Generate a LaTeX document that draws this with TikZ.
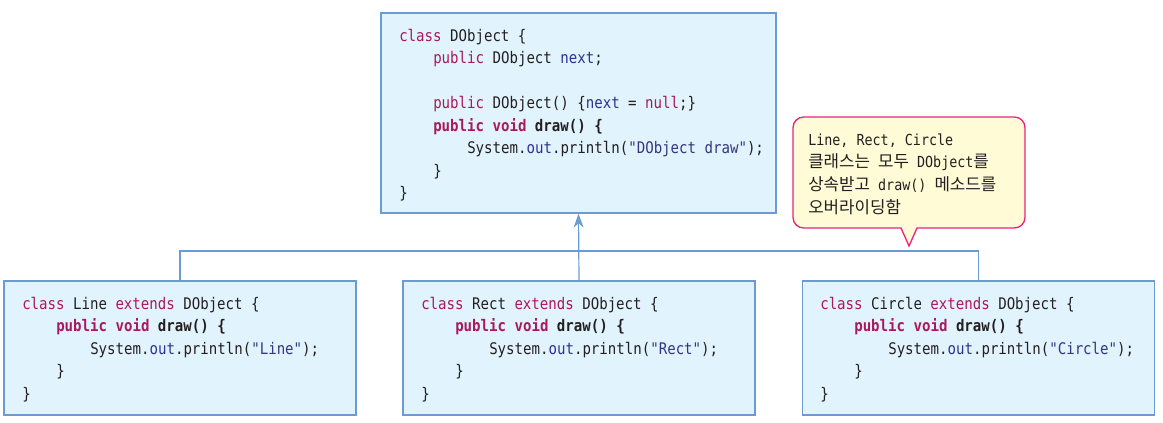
\documentclass[tikz,border=0pt]{standalone}
\usepackage{fontspec}
\setmonofont[FakeStretch=0.88]{DejaVu Sans Mono}
\newfontfamily\kr{Noto Sans CJK KR}
\usetikzlibrary{arrows.meta}
\definecolor{boxfill}{HTML}{E1F3FC}
\definecolor{boxline}{HTML}{6B9BD2}
\definecolor{kw}{HTML}{A8195F}
\definecolor{fld}{HTML}{2E3192}
\definecolor{str}{HTML}{353580}
\definecolor{txt}{HTML}{231F20}
\definecolor{cfill}{HTML}{FFFBD6}
\definecolor{cline}{HTML}{E8237F}
\newcommand\K[1]{\textcolor{kw}{#1}}
\newcommand\F[1]{\textcolor{fld}{#1}}
\newcommand\Sg[1]{\textcolor{str}{#1}}
\newcommand\ind{\hspace*{25.5pt}}
\newcommand\KR[1]{{\kr\fontsize{12.6}{17}\selectfont #1}}
\begin{document}
\begin{tikzpicture}[x=0.75pt,y=-0.75pt,
  box/.style={draw=boxline, fill=boxfill, line width=1pt, inner sep=0pt},
  code/.style={anchor=base west, inner sep=0pt, text=txt,
    font=\ttfamily\fontsize{12}{16.9}\selectfont},
  note/.style={anchor=base west, inner sep=0pt, text=txt,
    font=\ttfamily\fontsize{11.4}{17}\selectfont},
  conn/.style={draw=boxline, line width=0.9pt}]
\useasboundingbox (0,0) rectangle (1163,422);

% boxes
\node[box, minimum width=296.25pt, minimum height=150pt] (dobj) at (578.5,113) {};
\node[box, minimum width=264pt, minimum height=100.5pt] (line) at (180,348) {};
\node[box, minimum width=264pt, minimum height=100.5pt] (rect) at (579,348) {};
\node[box, minimum width=264pt, minimum height=100.5pt] (circ) at (978.5,348) {};

% connectors
\coordinate (j) at (579,251);
\draw[conn] (line.north) |- (j) -| (circ.north);
\draw[conn, -{Stealth[length=10.5pt, width=7.5pt]}] (rect.north) -- (dobj.south);

% code texts
\node[code] (tdobj) at (399,41) {\begin{tabular}[t]{@{}l@{}}
\K{class} DObject \{\\
\ind\K{public} DObject \F{next};\\
\\
\ind\K{public} DObject() \{\F{next} = \K{null};\}\\
\ind\textbf{\K{public} \K{void} draw() \{}\\
\ind\ind System.\F{out}.println(\Sg{"DObject draw"});\\
\ind\}\\
\}
\end{tabular}};

\node[code] (tline) at (22,309) {\begin{tabular}[t]{@{}l@{}}
\K{class} Line \K{extends} DObject \{\\
\ind\textbf{\K{public} \K{void} draw() \{}\\
\ind\ind System.\F{out}.println(\Sg{"Line"});\\
\ind\}\\
\}
\end{tabular}};

\node[code] (trect) at (421,309) {\begin{tabular}[t]{@{}l@{}}
\K{class} Rect \K{extends} DObject \{\\
\ind\textbf{\K{public} \K{void} draw() \{}\\
\ind\ind System.\F{out}.println(\Sg{"Rect"});\\
\ind\}\\
\}
\end{tabular}};

\node[code] (tcirc) at (820,309) {\begin{tabular}[t]{@{}l@{}}
\K{class} Circle \K{extends} DObject \{\\
\ind\textbf{\K{public} \K{void} draw() \{}\\
\ind\ind System.\F{out}.println(\Sg{"Circle"});\\
\ind\}\\
\}
\end{tabular}};

% callout
\node[draw=cline, fill=cfill, line width=1pt, rounded corners=8pt, inner sep=0pt,
  minimum width=174pt, minimum height=83.25pt] (callout) at (909,172.5) {};
\coordinate (ptip) at (909,246);
\coordinate (pl) at (901,228);
\coordinate (pr) at (917,228);
\fill[cfill] ([yshift=1.2pt]pl) -- (ptip) -- ([yshift=1.2pt]pr) -- cycle;
\draw[cline, line width=1pt, line join=miter] (pl) -- (ptip) -- (pr);
\node[note] (tnote) at (808,145) {\begin{tabular}[t]{@{}l@{}}
Line, Rect, Circle\\
\KR{클래스는}\ \KR{모두}\ DObject\KR{를}\\
\KR{상속받고}\ draw()\ \KR{메소드를}\\
\KR{오버라이딩함}
\end{tabular}};
\end{tikzpicture}
\end{document}
